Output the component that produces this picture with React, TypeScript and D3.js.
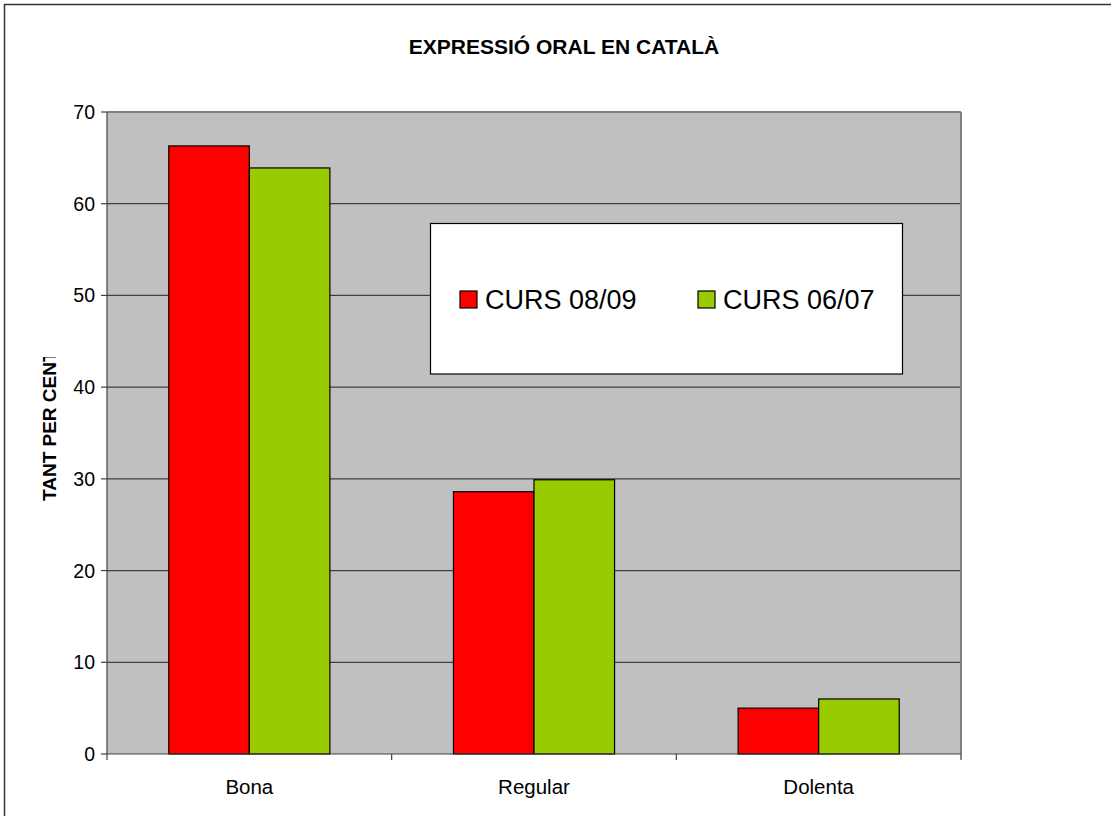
import React from "react";
import * as d3 from "d3";

const categories = ["Bona", "Regular", "Dolenta"];
const seriesNames = ["CURS 08/09", "CURS 06/07"];
const curs0809 = [66.3, 28.6, 5.0];
const curs0607 = [63.9, 29.9, 6.0];
const yTicks = [0, 10, 20, 30, 40, 50, 60, 70];
const colors = ["#FF0000", "#99CC00"];

const W = 1111;
const H = 816;
const plot = { left: 107, right: 961, top: 112, bottom: 754 };

export default function App() {
  const x = d3.scaleBand<string>().domain(categories).range([plot.left, plot.right]).paddingInner(0).paddingOuter(0);
  const y = d3.scaleLinear().domain([0, 70]).range([plot.bottom, plot.top]);
  const groupFrac = 0.566;
  const bw = x.bandwidth();
  const sub = d3.scaleBand<number>().domain([0, 1]).range([0, bw * groupFrac]);
  const series = [curs0809, curs0607];
  const font = "Arial, 'Liberation Sans', sans-serif";

  return (
    <div style={{ position: "absolute", left: 0, top: 0 }}>
      <svg width={W} height={H} style={{ display: "block", fontFamily: font }}>
        <rect x={0} y={0} width={W} height={H} fill="#fff" />
        <rect x={4.5} y={4.5} width={W + 20} height={H + 20} fill="none" stroke="#333" strokeWidth={1.5} />
        <text x={564} y={54} textAnchor="middle" fontSize={21} fontWeight="bold" fill="#000">
          EXPRESSIÓ ORAL EN CATALÀ
        </text>
        <rect x={plot.left} y={plot.top} width={plot.right - plot.left} height={plot.bottom - plot.top} fill="#C0C0C0" />
        {yTicks.filter((t) => t > 0 && t < 70).map((t) => (
          <line key={t} x1={plot.left} x2={plot.right} y1={y(t)} y2={y(t)} stroke="#404040" strokeWidth={1.2} />
        ))}
        <line x1={plot.left} x2={plot.right} y1={plot.top} y2={plot.top} stroke="#808080" strokeWidth={2} />
        <line x1={plot.right} x2={plot.right} y1={plot.top} y2={plot.bottom} stroke="#808080" strokeWidth={2} />
        {categories.map((c, i) =>
          series.map((s, j) => {
            const bx = (x(c) as number) + (bw * (1 - groupFrac)) / 2 + (sub(j) as number);
            return (
              <rect
                key={c + j}
                x={bx}
                y={y(s[i])}
                width={sub.bandwidth()}
                height={y(0) - y(s[i])}
                fill={colors[j]}
                stroke="#000"
                strokeWidth={1.2}
              />
            );
          })
        )}
        <line x1={plot.left} x2={plot.left} y1={plot.top} y2={plot.bottom} stroke="#404040" strokeWidth={1.2} />
        <line x1={plot.left} x2={plot.right} y1={plot.bottom} y2={plot.bottom} stroke="#404040" strokeWidth={1.2} />
        {yTicks.map((t) => (
          <g key={t}>
            <line x1={plot.left - 6} x2={plot.left} y1={y(t)} y2={y(t)} stroke="#404040" strokeWidth={1.2} />
            <text x={95} y={y(t) + 7} textAnchor="end" fontSize={19.5} fill="#000">
              {t}
            </text>
          </g>
        ))}
        {[...categories.map((c) => x(c) as number), plot.right].map((v, i) => (
          <line key={i} x1={v} x2={v} y1={plot.bottom} y2={plot.bottom + 6} stroke="#404040" strokeWidth={1.2} />
        ))}
        {categories.map((c) => (
          <text key={c} x={(x(c) as number) + bw / 2} y={794} textAnchor="middle" fontSize={20.5} fill="#000">
            {c}
          </text>
        ))}
        <defs>
          <clipPath id="ylabclip">
            <rect x={0} y={357} width={100} height={300} />
          </clipPath>
        </defs>
        <g clipPath="url(#ylabclip)">
          <text transform="translate(56,501) rotate(-90)" textAnchor="start" fontSize={19} fontWeight="bold" fill="#000">
            TANT PER CENT
          </text>
        </g>
        <rect x={430.5} y={223.5} width={472} height={150.5} fill="#fff" stroke="#000" strokeWidth={1.2} />
        {seriesNames.map((n, j) => {
          const mx = j === 0 ? 460 : 698;
          return (
            <g key={n}>
              <rect x={mx} y={291} width={17} height={17} fill={colors[j]} stroke="#000" strokeWidth={1.2} />
              <text x={mx + 25} y={309} fontSize={27} fill="#000">
                {n}
              </text>
            </g>
          );
        })}
      </svg>
    </div>
  );
}
